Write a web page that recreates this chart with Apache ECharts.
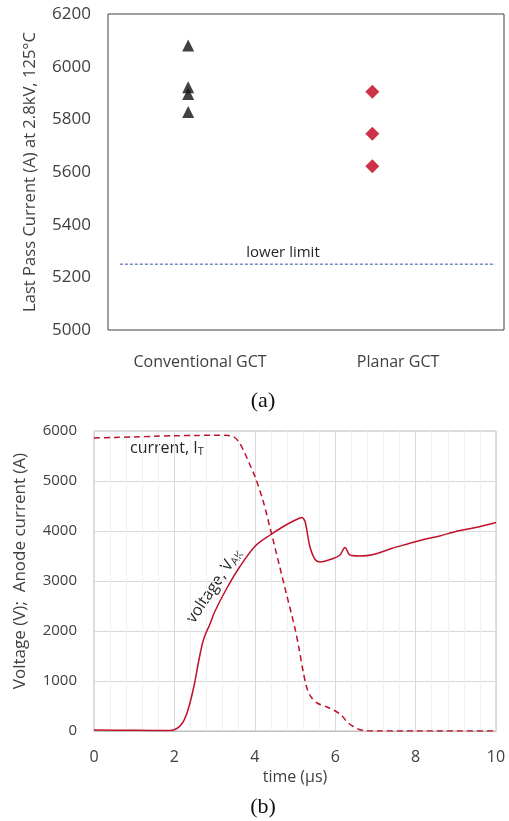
<!DOCTYPE html>
<html>
<head>
<meta charset="utf-8">
<script src="https://cdn.jsdelivr.net/npm/echarts@6/dist/echarts.min.js"></script>
<style>
  html, body { margin: 0; padding: 0; background: #fff; }
  #chart { width: 509px; height: 821px; }
</style>
</head>
<body>
<div id="chart"></div>
<script>
// (a) last pass current per device type
const categories = ['Conventional GCT', 'Planar GCT'];
const categoryPos = [1, 3];
const convX = 0.88;
const convValues = [6080, 5922, 5896, 5828];
const planarX = 2.74;
const planarValues = [5905, 5745, 5622];
const lowerLimit = 5250;
const lowerLimitSpan = [0.19, 3.98];

// (b) turn-off waveforms, time in us
const currentT = [0, 0.5, 1, 1.5, 2, 2.5, 3, 3.35, 3.5, 3.62, 3.75, 3.88, 4.0, 4.2, 4.4, 4.6, 4.8, 5.0, 5.1, 5.2, 5.3, 5.4, 5.55, 5.8, 6.0, 6.15, 6.3, 6.45, 6.6, 6.8, 7, 8, 9, 10];
const currentA = [5860, 5870, 5880, 5895, 5905, 5910, 5915, 5910, 5870, 5760, 5560, 5320, 5100, 4620, 4000, 3350, 2700, 2050, 1650, 1200, 850, 680, 560, 480, 400, 320, 180, 90, 30, 5, 0, 0, 0, 0];
const voltageT = [0, 1, 1.9, 2.06, 2.2, 2.3, 2.4, 2.5, 2.6, 2.7, 2.78, 2.88, 3.0, 3.3, 3.63, 4.0, 4.38, 4.71, 4.96, 5.12, 5.17, 5.25, 5.37, 5.5, 5.62, 5.95, 6.12, 6.24, 6.35, 6.41, 6.62, 6.95, 7.4, 7.8, 8.2, 8.6, 9.0, 9.5, 10];
const voltageV = [20, 15, 10, 50, 160, 330, 600, 950, 1380, 1760, 1950, 2130, 2380, 2850, 3290, 3690, 3920, 4090, 4200, 4260, 4270, 4190, 3690, 3430, 3380, 3450, 3520, 3670, 3530, 3510, 3500, 3530, 3650, 3740, 3830, 3900, 3990, 4070, 4170];

const txt = '#404040';
const red = '#C0102A';
const font = 'Open Sans';

let myChart = echarts.init(document.getElementById('chart'));
myChart.setOption({
  animation: false,
  textStyle: { fontFamily: font },
  grid: [
    { left: 108, top: 14, width: 396, height: 316, show: true, borderColor: '#404040', borderWidth: 1 },
    { left: 94, top: 431, width: 402, height: 300, show: true, borderColor: '#bfbfbf', borderWidth: 1 }
  ],
  xAxis: [
    {
      gridIndex: 0, type: 'value', min: 0.07, max: 4.07,
      axisLine: { show: false }, axisTick: { show: false }, splitLine: { show: false },
      axisLabel: {
        customValues: categoryPos, margin: 24, color: txt, fontSize: 16, fontFamily: font,
        formatter: v => categories[categoryPos.indexOf(Math.round(v))] || ''
      }
    },
    {
      gridIndex: 1, type: 'value', min: 0, max: 10, interval: 2,
      name: 'time (µs)', nameLocation: 'middle', nameGap: 38,
      nameTextStyle: { color: txt, fontSize: 16, fontFamily: font },
      axisLine: { lineStyle: { color: '#bfbfbf' } }, axisTick: { show: false },
      axisLabel: { color: txt, fontSize: 16, margin: 18, fontFamily: font },
      splitLine: { lineStyle: { color: '#d9d9d9', width: 1 } },
      minorTick: { show: false, splitNumber: 5 },
      minorSplitLine: { show: true, lineStyle: { color: '#f0f0f0', width: 1 } }
    }
  ],
  yAxis: [
    {
      gridIndex: 0, type: 'value', min: 5000, max: 6200, interval: 200,
      name: 'Last Pass Current (A) at 2.8kV, 125°C', nameLocation: 'middle', nameGap: 69,
      nameTextStyle: { color: txt, fontSize: 16.6, fontFamily: font },
      axisLine: { show: false }, axisTick: { show: false }, splitLine: { show: false },
      axisLabel: { color: txt, fontSize: 17, margin: 17, fontFamily: font, formatter: v => String(v) }
    },
    {
      gridIndex: 1, type: 'value', min: 0, max: 6000, interval: 1000,
      name: 'Voltage (V);  Anode current (A)', nameLocation: 'middle', nameGap: 65,
      nameTextStyle: { color: txt, fontSize: 17, fontFamily: font, padding: [0, 0, 0, 20] },
      axisLine: { show: false }, axisTick: { show: false },
      axisLabel: { color: txt, fontSize: 15, margin: 17, fontFamily: font, formatter: v => String(v) },
      splitLine: { lineStyle: { color: '#d9d9d9', width: 1 } }
    }
  ],
  series: [
    {
      name: 'Conventional GCT', type: 'scatter', xAxisIndex: 0, yAxisIndex: 0,
      symbol: 'triangle', symbolSize: 12, itemStyle: { color: '#111' },
      data: convValues.map(v => [convX, v])
    },
    {
      name: 'Planar GCT', type: 'scatter', xAxisIndex: 0, yAxisIndex: 0,
      symbol: 'diamond', symbolSize: 14, itemStyle: { color: '#C00018' },
      data: planarValues.map(v => [planarX, v])
    },
    {
      name: 'lower limit', type: 'line', xAxisIndex: 0, yAxisIndex: 0,
      symbol: 'none', lineStyle: { color: '#2F4E9A', width: 1, type: [3, 2] },
      data: lowerLimitSpan.map(x => [x, lowerLimit])
    },
    {
      name: 'current', type: 'line', xAxisIndex: 1, yAxisIndex: 1,
      symbol: 'none', smooth: 0.3, lineStyle: { color: red, width: 1.5, type: [6, 4] },
      data: currentT.map((t, i) => [t, currentA[i]])
    },
    {
      name: 'voltage', type: 'line', xAxisIndex: 1, yAxisIndex: 1,
      symbol: 'none', smooth: 0.3, lineStyle: { color: red, width: 1.5 },
      data: voltageT.map((t, i) => [t, voltageV[i]])
    }
  ],
  graphic: [
    { type: 'text', x: 283, y: 253, style: { text: 'lower limit', font: '15px "Open Sans"', fill: '#262626', align: 'center', verticalAlign: 'middle' } },
    { type: 'text', x: 263, y: 401, style: { text: '(a)', font: '22px "Liberation Serif"', fill: '#111', align: 'center', verticalAlign: 'middle' } },
    { type: 'text', x: 263, y: 807, style: { text: '(b)', font: '22px "Liberation Serif"', fill: '#111', align: 'center', verticalAlign: 'middle' } },
    {
      type: 'text', x: 130, y: 448,
      style: {
        text: '{a|current, I}{s|T}', verticalAlign: 'middle',
        rich: {
          a: { font: '16px "Open Sans"', fill: '#262626' },
          s: { font: '11px "Open Sans"', fill: '#262626', padding: [8, 0, 0, 0] }
        }
      }
    },
    {
      type: 'text', x: 214, y: 586, rotation: 0.98,
      style: {
        text: '{a|voltage, V}{s|AK}', align: 'center', verticalAlign: 'middle',
        rich: {
          a: { font: '16px "Open Sans"', fill: '#262626' },
          s: { font: '11px "Open Sans"', fill: '#262626', padding: [8, 0, 0, 0] }
        }
      }
    }
  ]
});
</script>
</body>
</html>
